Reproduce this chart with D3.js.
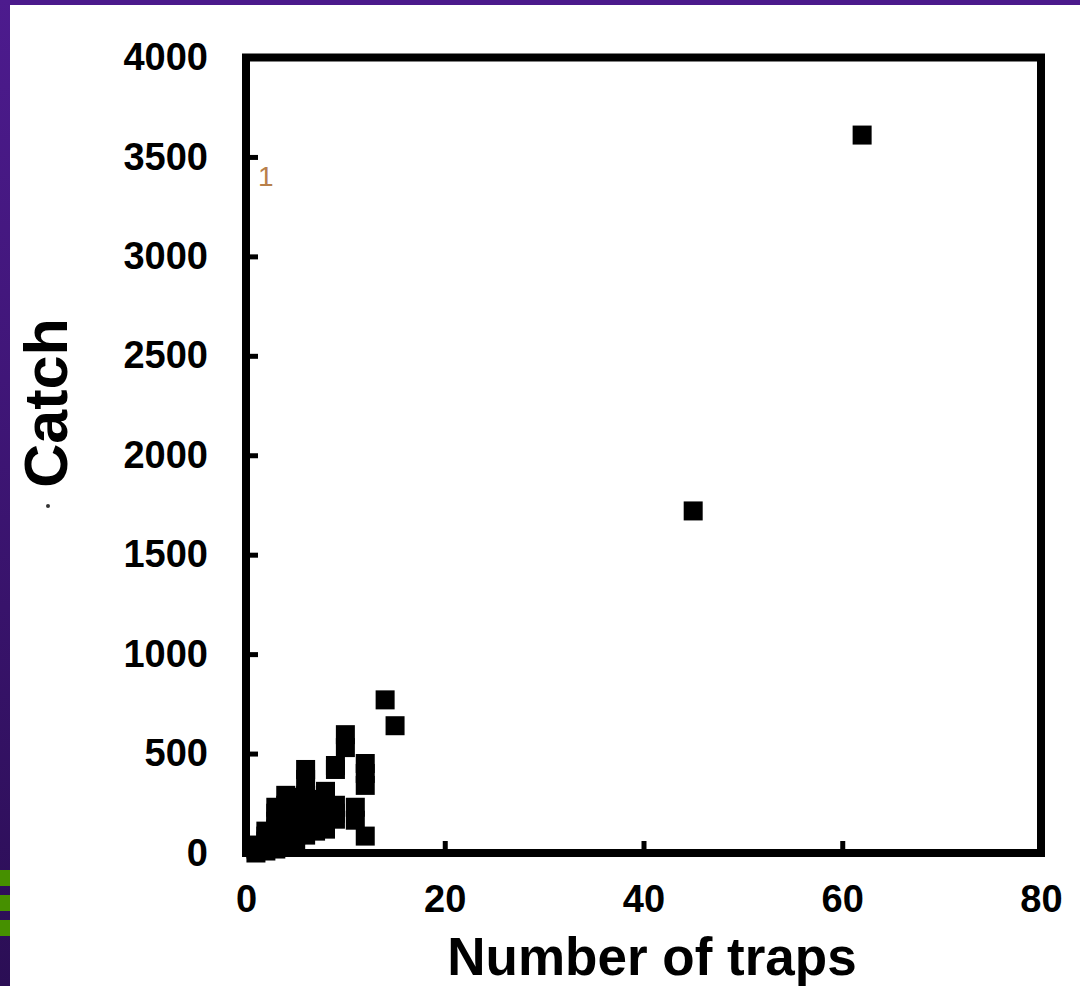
<!DOCTYPE html>
<html>
<head>
<meta charset="utf-8">
<script src="https://cdn.jsdelivr.net/npm/d3@7"></script>
<style>
  html, body { margin: 0; padding: 0; background: #fff; }
  svg { display: block; }
  text { font-family: "Liberation Sans", Arial, sans-serif; }
</style>
</head>
<body>
<svg id="chart" width="1080" height="986"></svg>
<script>
// Trap count per site and the catch recorded there
const trapCounts = [1, 1, 1, 2, 2, 2, 2, 2, 3, 3, 3, 3, 3, 3, 3,
  4, 4, 4, 4, 4, 4, 4, 5, 5, 5, 5, 5, 5, 5,
  6, 6, 6, 6, 6, 6, 6, 6, 7, 7, 7, 7, 7, 8, 8, 8, 8, 8,
  9, 9, 9, 9, 9, 10, 10, 11, 11, 12, 12, 12, 12,
  14, 15, 45, 62];
const catchValues = [0, 20, 40, 10, 30, 60, 85, 110, 20, 50, 90, 120, 160, 200, 230,
  30, 70, 110, 150, 190, 240, 290, 50, 90, 130, 170, 210, 250, 280,
  90, 130, 170, 210, 250, 290, 370, 420, 110, 150, 190, 230, 270, 120, 160, 200, 250, 310,
  170, 200, 240, 420, 440, 530, 595, 165, 230, 85, 340, 400, 450,
  770, 640, 1720, 3610];

const xTicks = [0, 20, 40, 60, 80];
const yTicks = [0, 500, 1000, 1500, 2000, 2500, 3000, 3500, 4000];

const svg = d3.select("#chart");
const W = 1080, H = 986;

// slide background: purple top band and left strip with green accents
const defs = svg.append("defs");
const grad = defs.append("linearGradient").attr("id", "strip")
  .attr("x1", 0).attr("y1", 0).attr("x2", 0).attr("y2", 1);
grad.append("stop").attr("offset", "0%").attr("stop-color", "#4d1b8e");
grad.append("stop").attr("offset", "100%").attr("stop-color", "#2b0e55");

svg.append("rect").attr("x", 0).attr("y", 0).attr("width", W).attr("height", 5)
  .attr("fill", "#4b1a8c");
svg.append("rect").attr("x", 0).attr("y", 0).attr("width", 10).attr("height", H)
  .attr("fill", "url(#strip)");
[870, 895, 920].forEach(y => {
  svg.append("rect").attr("x", 0).attr("y", y).attr("width", 10).attr("height", 16)
    .attr("fill", "#469000");
});

const x = d3.scaleLinear().domain([0, 80]).range([246, 1041]);
const y = d3.scaleLinear().domain([0, 4000]).range([853, 57.5]);

// frame around plotting area
svg.append("rect")
  .attr("x", x(0)).attr("y", y(4000))
  .attr("width", x(80) - x(0)).attr("height", y(0) - y(4000))
  .attr("fill", "none").attr("stroke", "#000").attr("stroke-width", 8);

// inward ticks
const yAxis = d3.axisLeft(y).tickValues(yTicks).tickSize(-12).tickPadding(38)
  .tickFormat(d3.format("d"));
const gy = svg.append("g").attr("transform", `translate(${x(0)},0)`).call(yAxis);
gy.select(".domain").remove();
gy.selectAll(".tick line").attr("stroke", "#000").attr("stroke-width", 5)
  .filter(d => d === 0 || d === 4000).remove();
gy.selectAll(".tick text")
  .attr("font-size", 38).attr("font-weight", "bold").attr("fill", "#000")
  .attr("font-family", "'Liberation Sans', Arial, sans-serif");

const xAxis = d3.axisBottom(x).tickValues(xTicks).tickSize(-12).tickPadding(32)
  .tickFormat(d3.format("d"));
const gx = svg.append("g").attr("transform", `translate(0,${y(0)})`).call(xAxis);
gx.select(".domain").remove();
gx.selectAll(".tick line").attr("stroke", "#000").attr("stroke-width", 5)
  .filter(d => d === 0 || d === 80).remove();
gx.selectAll(".tick text")
  .attr("font-size", 38).attr("font-weight", "bold").attr("fill", "#000")
  .attr("font-family", "'Liberation Sans', Arial, sans-serif");

// square markers
const S = 19;
svg.append("g").selectAll("rect.pt")
  .data(trapCounts.map((t, i) => ({ t, c: catchValues[i] })))
  .join("rect").attr("class", "pt")
  .attr("x", d => x(d.t) - S / 2).attr("y", d => y(d.c) - S / 2)
  .attr("width", S).attr("height", S).attr("fill", "#000");

// axis titles
svg.append("text")
  .attr("x", 652).attr("y", 975).attr("text-anchor", "middle")
  .attr("font-size", 53).attr("font-weight", "bold").attr("fill", "#000")
  .text("Number of traps");
svg.append("text")
  .attr("transform", "translate(67,403) rotate(-90)").attr("text-anchor", "middle")
  .attr("font-size", 61).attr("font-weight", "bold").attr("fill", "#000")
  .text("Catch");

// stray marks left on the slide
svg.append("text").attr("x", 258).attr("y", 186)
  .attr("font-size", 28).attr("fill", "#b8804a").text("1");
svg.append("circle").attr("cx", 48).attr("cy", 506).attr("r", 2).attr("fill", "#333");
</script>
</body>
</html>
